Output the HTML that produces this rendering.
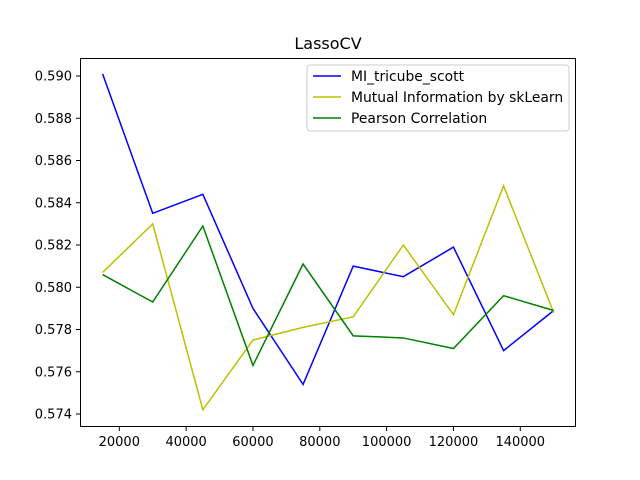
<!DOCTYPE html>
<html><head><meta charset="utf-8"><style>body{margin:0;background:#fff}svg{display:block;font-family:"DejaVu Sans","Liberation Sans",sans-serif}</style></head>
<body>
<svg id="chart" width="640" height="480">
<rect width="640" height="480" fill="#fff"/>
<text x="328" y="49" font-size="16" text-anchor="middle">LassoCV</text>
<g id="plot"></g>
<rect x="80.5" y="58.5" width="495" height="368" fill="none" stroke="#000" stroke-width="1"/>
<g>
<rect x="307" y="65" width="262" height="66" rx="3" fill="#fff" fill-opacity="0.8" stroke="#ccc"/>
<line x1="313" y1="76" x2="341" y2="76" stroke="#0000ff" stroke-width="1.5"/>
<text x="351" y="81" font-size="13.9">MI_tricube_scott</text>
<line x1="313" y1="97" x2="341" y2="97" stroke="#bfbf00" stroke-width="1.5"/>
<text x="351" y="102" font-size="13.9">Mutual Information by skLearn</text>
<line x1="313" y1="118" x2="341" y2="118" stroke="#008000" stroke-width="1.5"/>
<text x="351" y="123" font-size="13.9">Pearson Correlation</text>
</g>
</svg>
<script>
const xValues=[15000,30000,45000,60000,75000,90000,105000,120000,135000,150000];
const miValues=[0.5901,0.5835,0.5844,0.5790,0.5754,0.5810,0.5805,0.5819,0.5770,0.5789];
const skValues=[0.5807,0.5830,0.5742,0.5775,0.5781,0.5786,0.5820,0.5787,0.5848,0.5788];
const pearsonValues=[0.5806,0.5793,0.5829,0.5763,0.5811,0.5777,0.5776,0.5771,0.5796,0.5789];
const xTicks=[20000,40000,60000,80000,100000,120000,140000];
const yTicks=[0.574,0.576,0.578,0.580,0.582,0.584,0.586,0.588,0.590];
const NS="http://www.w3.org/2000/svg";
function xs(v){return 119.3+(v-20000)*66.83/20000;}
function ys(v){return 414-(v-0.574)*21125;}
const g=document.getElementById('plot');
function mk(t,a){const e=document.createElementNS(NS,t);for(const k in a)e.setAttribute(k,a[k]);g.appendChild(e);return e;}
xTicks.forEach(t=>{const x=xs(t);
const l=mk('line',{x1:x,x2:x,y1:427,y2:431,stroke:'#000'});


const tx=mk('text',{x:x,y:446,'font-size':13,'text-anchor':'middle'});tx.textContent=t;

});
yTicks.forEach(t=>{const y=ys(t);
const l=mk('line',{x1:76,x2:80,y1:y,y2:y,stroke:'#000'});


const tx=mk('text',{x:72,y:y+4.5,'font-size':13,'text-anchor':'end'});tx.textContent=t.toFixed(3);

});
function series(vals,color,name){const p=mk('polyline',{points:vals.map((v,i)=>xs(xValues[i])+','+ys(v)).join(' '),fill:'none',stroke:color,'stroke-width':1.5});

}
series(miValues,'#0000ff','line-mi-tricube-scott');
series(skValues,'#bfbf00','line-mutual-information');
series(pearsonValues,'#008000','line-pearson-correlation');
</script>
</body></html>
